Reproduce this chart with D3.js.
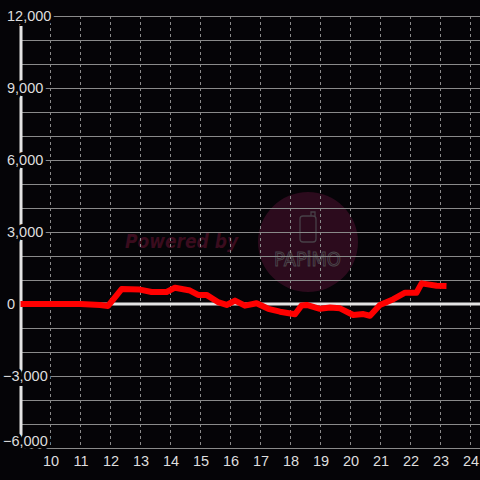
<!DOCTYPE html>
<html lang="en">
<head>
    <meta charset="UTF-8">
    <title>Medal difference</title>
    <script src="https://d3js.org/d3.v7.min.js"></script>
    <style>
        body {
            margin: 0;
            padding: 0;
            background-color: #050407;
        }
        svg {
            display: block;
            font-family: "Liberation Sans", Arial, sans-serif;
        }
    </style>
</head>
<body>
    <svg id="chart" width="480" height="480"></svg>

    <script>
        // Data (hour of day, medal difference)
        const hours = [9, 11, 11.65, 11.92, 12.37, 12.98, 13.37, 13.87, 14.15, 14.65, 14.92, 15.2,
            15.58, 15.87, 16.15, 16.48, 16.87, 17.26, 17.65, 18.15, 18.37, 18.54, 18.98, 19.32,
            19.65, 20.09, 20.43, 20.65, 20.98, 21.43, 21.82, 22.2, 22.37, 22.87, 23.2];
        const diffs = [0, 0, -40, -80, 620, 600, 500, 500, 680, 560, 380, 380,
            80, -40, 140, -70, 30, -200, -320, -430, -60, -40, -200, -150,
            -180, -460, -420, -490, -40, 200, 470, 470, 860, 760, 750];

        const xTicks = [10, 11, 12, 13, 14, 15, 16, 17, 18, 19, 20, 21, 22, 23, 24];
        const yGrid = d3.range(-6000, 12001, 1000);
        const yLabels = [12000, 9000, 6000, 3000, 0, -3000, -6000];

        const width = 480;
        const height = 480;
        const plotLeft = 20;
        const plotTop = 16;
        const plotBottom = 448;

        const x = d3.scaleLinear().domain([9, 24]).range([plotLeft + 0.5, plotLeft + 450.5]);
        const y = d3.scaleLinear().domain([-6000, 12000]).range([plotBottom, plotTop]);

        const svg = d3.select('#chart');
        svg.append('rect').attr('width', width).attr('height', height).attr('fill', '#050407');

        // Watermark
        const wm = svg.append('g');
        wm.append('circle').attr('cx', 308).attr('cy', 242).attr('r', 50).attr('fill', '#2c0b1d');
        wm.append('path')
            .attr('d', 'M300,219 q0,-3 3,-3 h10 q3,0 3,3 v20 q0,3 -3,3 h-10 q-3,0 -3,-3 z M311,216 v-4 h4 v5')
            .attr('fill', 'none').attr('stroke', '#474047').attr('stroke-width', 1.3);
        wm.append('text')
            .attr('x', 274).attr('y', 266)
            .attr('textLength', 67).attr('lengthAdjust', 'spacingAndGlyphs')
            .attr('font-size', 20)
            .attr('font-family', '"DejaVu Sans", sans-serif')
            .attr('fill', 'none').attr('stroke', '#4a454a').attr('stroke-width', 1)
            .text('PAPiMO');
        wm.append('text')
            .attr('x', 125).attr('y', 248)
            .attr('textLength', 113).attr('lengthAdjust', 'spacingAndGlyphs')
            .attr('font-size', 19).attr('font-weight', 'bold').attr('font-style', 'italic')
            .attr('font-family', '"DejaVu Sans", sans-serif')
            .attr('fill', '#3a0c1e')
            .text('Powered by');

        // Horizontal grid
        svg.append('g').selectAll('line')
            .data(yGrid)
            .join('line')
            .attr('x1', plotLeft).attr('x2', width)
            .attr('y1', d => Math.round(y(d)) + 0.5)
            .attr('y2', d => Math.round(y(d)) + 0.5)
            .attr('stroke', '#8a8a8a').attr('stroke-width', 1);

        // Vertical dashed grid
        svg.append('g').selectAll('line')
            .data(xTicks)
            .join('line')
            .attr('x1', d => x(d)).attr('x2', d => x(d))
            .attr('y1', plotTop).attr('y2', plotBottom)
            .attr('stroke', '#8a8a8a').attr('stroke-width', 1)
            .attr('stroke-dasharray', '3,3');

        // Zero line and y axis
        svg.append('line')
            .attr('x1', plotLeft).attr('x2', width)
            .attr('y1', y(0)).attr('y2', y(0))
            .attr('stroke', '#e4e4e4').attr('stroke-width', 3);
        svg.append('line')
            .attr('x1', plotLeft + 1).attr('x2', plotLeft + 1)
            .attr('y1', plotTop).attr('y2', plotBottom)
            .attr('stroke', '#e4e4e4').attr('stroke-width', 3);

        // Data line
        const points = hours.map((h, i) => [h, diffs[i]]);
        svg.append('path')
            .datum(points)
            .attr('d', d3.line().x(d => x(d[0])).y(d => y(d[1])))
            .attr('fill', 'none')
            .attr('stroke', '#ff0000')
            .attr('stroke-width', 6)
            .attr('stroke-linejoin', 'round');

        // Y labels (black halo hides the lines underneath)
        svg.append('g').selectAll('text')
            .data(yLabels)
            .join('text')
            .attr('x', d => d < 0 ? 3 : 7)
            .attr('y', d => Math.min(y(d) + 1, plotBottom - 6))
            .attr('dominant-baseline', 'middle')
            .attr('font-size', 14.5)
            .attr('fill', '#dedede')
            .attr('stroke', '#050407').attr('stroke-width', 6)
            .attr('paint-order', 'stroke')
            .text(d => d3.format(',')(d));

        // X labels
        svg.append('g').selectAll('text')
            .data(xTicks)
            .join('text')
            .attr('x', d => x(d) + 0.5)
            .attr('y', 466)
            .attr('text-anchor', 'middle')
            .attr('font-size', 14.5)
            .attr('fill', '#dedede')
            .text(d => d);
    </script>
</body>
</html>
